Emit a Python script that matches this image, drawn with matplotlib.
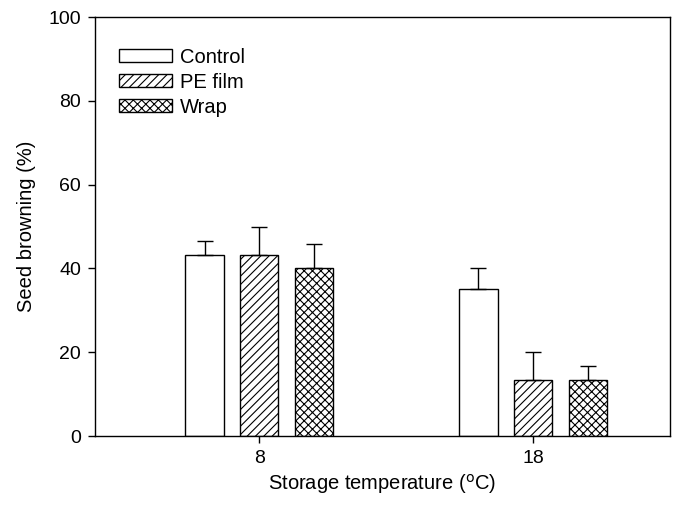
import numpy as np
import matplotlib
matplotlib.use("Agg")
import matplotlib.pyplot as plt

plt.rcParams['font.family'] = ['Liberation Sans', 'DejaVu Sans']
plt.rcParams['hatch.linewidth'] = 0.8

temps = [8, 18]
tick_labels = ['8', '18']
series = ['Control', 'PE film', 'Wrap']
means = {
    'Control': [43.3, 35.0],
    'PE film': [43.3, 13.3],
    'Wrap': [40.0, 13.3],
}
errs = {
    'Control': [3.3, 5.0],
    'PE film': [6.7, 6.7],
    'Wrap': [5.8, 3.3],
}
hatches = ['', '////', 'xxxx']
offsets = [-2, 0, 2]

fig = plt.figure(figsize=(6.86, 5.25), dpi=100)
ax = fig.add_axes([0.1385, 0.1695, 0.8382, 0.798])

x = np.array(temps, dtype=float)
for name, h, off in zip(series, hatches, offsets):
    ax.bar(x + off, means[name], width=1.4, color='white', edgecolor='black',
           linewidth=1.0, hatch=h, label=name, zorder=2)
    ax.errorbar(x + off, means[name], yerr=[np.zeros(2), errs[name]], fmt='none',
                ecolor='black', elinewidth=1.0, capsize=6, capthick=1.0, zorder=3)

ax.set_xlim(2, 23)
ax.set_ylim(0, 100)
ax.set_xticks(temps)
ax.set_xticklabels(tick_labels)
ax.set_yticks([0, 20, 40, 60, 80, 100])
ax.tick_params(direction='out', length=5, width=1, labelsize=14, pad=5)
for s in ax.spines.values():
    s.set_linewidth(1)

ax.set_ylabel('Seed browning (%)', fontsize=14.5, labelpad=9)
ax.set_xlabel('Storage temperature ($^{\\mathrm{o}}$C)', fontsize=14.5, labelpad=4)

ax.legend(loc='upper left', bbox_to_anchor=(0.011, 0.97), frameon=False,
          fontsize=14.5, handlelength=2.6, handleheight=0.65, labelspacing=0.3,
          handletextpad=0.4)

fig.savefig('out.png', dpi=100)
